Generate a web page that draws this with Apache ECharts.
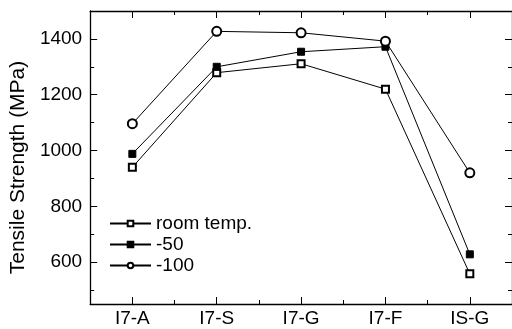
<!DOCTYPE html>
<html>
<head>
<meta charset="utf-8">
<script src="https://cdn.jsdelivr.net/npm/echarts@6/dist/echarts.min.js"></script>
<style>
html,body{margin:0;padding:0;background:#fff;}
#c{width:512px;height:329px;}
</style>
</head>
<body>
<div id="c"></div>
<script>
const categories = ['I7-A', 'I7-S', 'I7-G', 'I7-F', 'IS-G'];
const roomTemp = [940, 1279, 1311, 1220, 558];
const minus50 = [988, 1300, 1354, 1372, 628];
const minus100 = [1096, 1427, 1422, 1392, 920];
const seriesNames = ['room temp.', '-50', '-100'];
const yMajorTicks = [600, 800, 1000, 1200, 1400];
const yMinorTicks = [500, 700, 900, 1100, 1300, 1500];

const FONT = 'Liberation Sans';
const FS = 19;
const axisLineStyle = { color: '#000', width: 1.3 };

function xAx(pos, major, showLine, showLabel) {
  return {
    type: 'category', data: categories, position: pos, boundaryGap: true,
    axisLine: { show: showLine, lineStyle: axisLineStyle },
    axisTick: { show: true, inside: true, alignWithLabel: major, length: major ? 7 : 4, lineStyle: { color: '#000', width: 1 } },
    axisLabel: { show: showLabel, color: '#000', fontFamily: FONT, fontSize: FS, margin: 5 },
    splitLine: { show: false }
  };
}
function yAx(pos, major, showLine, showLabel) {
  const ticks = major ? yMajorTicks : yMinorTicks;
  const ax = {
    type: 'value', position: pos, min: 450, max: 1500,
    axisLine: { show: showLine, lineStyle: axisLineStyle },
    axisTick: { show: true, inside: true, length: major ? 7 : 4, customValues: ticks, lineStyle: { color: '#000', width: 1 } },
    axisLabel: { show: showLabel, customValues: ticks, formatter: v => String(v), color: '#000', fontFamily: FONT, fontSize: FS, margin: 8 },
    splitLine: { show: false }
  };
  if (showLabel) {
    ax.name = 'Tensile Strength (MPa)';
    ax.nameLocation = 'middle';
    ax.nameGap = 55;
    ax.nameTextStyle = { color: '#000', fontFamily: FONT, fontSize: 21, padding: [0, 20, 0, 0] };
  }
  return ax;
}

const chart = echarts.init(document.getElementById('c'), null, { renderer: 'canvas' });
chart.setOption({
  animation: false,
  backgroundColor: '#fff',
  grid: { left: 87, right: -2, top: 11, bottom: 25, containLabel: false },
  xAxis: [xAx('bottom', true, true, true), xAx('bottom', false, false, false), xAx('top', true, true, false), xAx('top', false, false, false)],
  yAxis: [yAx('left', true, true, true), yAx('left', false, false, false), yAx('right', true, true, false), yAx('right', false, false, false)],
  legend: {
    orient: 'vertical', left: 109, top: 214, padding: 0, itemWidth: 41, itemHeight: 7, itemGap: 2,
    textStyle: { color: '#000', fontFamily: FONT, fontSize: FS },
    data: seriesNames
  },
  series: [
    { name: seriesNames[0], type: 'line', data: roomTemp, symbol: 'emptyRect', symbolSize: 7,
      itemStyle: { color: '#000', borderColor: '#000', borderWidth: 1 }, lineStyle: { color: '#000', width: 1 } },
    { name: seriesNames[1], type: 'line', data: minus50, symbol: 'rect', symbolSize: 7,
      itemStyle: { color: '#000', borderColor: '#000', borderWidth: 1 }, lineStyle: { color: '#000', width: 1 } },
    { name: seriesNames[2], type: 'line', data: minus100, symbol: 'emptyCircle', symbolSize: 9,
      itemStyle: { color: '#000', borderColor: '#000', borderWidth: 1 }, lineStyle: { color: '#000', width: 1 } }
  ]
});
</script>
</body>
</html>
